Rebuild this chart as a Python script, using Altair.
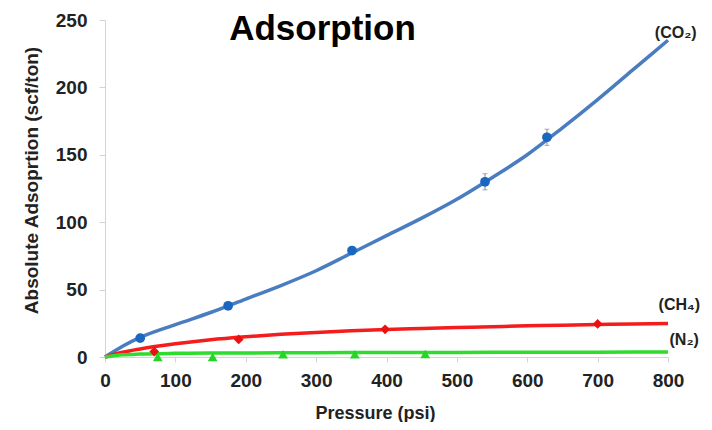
import altair as alt
import pandas as pd

# ---- data ----
curve_psi = [0, 25, 50, 100, 150, 200, 250, 300, 350, 400, 450, 500, 550, 600, 650, 700, 750, 800]
co2_curve = [0, 8, 14.5, 24, 33, 43, 53, 64, 77, 90, 103, 117, 133, 150, 170, 191, 213, 235]
ch4_curve = [0, 3.5, 6, 9.8, 12.8, 15, 16.8, 18.2, 19.4, 20.4, 21.2, 21.9, 22.5, 23.1, 23.6, 24.1, 24.5, 24.9]
n2_curve = [0, 1.6, 2.2, 2.7, 2.9, 3.0, 3.1, 3.2, 3.3, 3.3, 3.4, 3.4, 3.5, 3.5, 3.6, 3.6, 3.7, 3.7]

co2_psi = [50, 175, 351, 540, 628]
co2_val = [14, 38, 79, 130, 163]
co2_err = [0, 0, 0, 6, 6]

ch4_psi = [70, 190, 398, 700]
ch4_val = [4, 13, 20.5, 24.5]

n2_psi = [75, 153, 253, 355, 455]
n2_val = [0, 0, 2, 2, 2.2]

gases = ["CO2", "CH4", "N2"]
line_colors = ["#4a7dc0", "#f41c1c", "#2edc2e"]
point_colors = ["#1a67c2", "#ec1010", "#25d425"]
point_shapes = ["circle", "diamond", "triangle-up"]

label_text = ["(CO\u2082)", "(CH\u2084)", "(N\u2082)"]
label_psi = [811, 816, 823]
label_val = [240, 38.6, 12.6]

title_text = ["Adsorption"]
title_psi = [309]
title_val = [235.2]

x_ticks = [0, 100, 200, 300, 400, 500, 600, 700, 800]
y_ticks = [0, 50, 100, 150, 200, 250]

# ---- tables ----
curves = pd.DataFrame({
    "psi": curve_psi * 3,
    "val": co2_curve + ch4_curve + n2_curve,
    "gas": ["CO2"] * len(curve_psi) + ["CH4"] * len(curve_psi) + ["N2"] * len(curve_psi),
})
points = pd.DataFrame({
    "psi": co2_psi + ch4_psi + n2_psi,
    "val": co2_val + ch4_val + n2_val,
    "gas": ["CO2"] * len(co2_psi) + ["CH4"] * len(ch4_psi) + ["N2"] * len(n2_psi),
})
errs = pd.DataFrame({
    "psi": co2_psi,
    "lo": [v - e for v, e in zip(co2_val, co2_err)],
    "hi": [v + e for v, e in zip(co2_val, co2_err)],
})
errs = errs[[e > 0 for e in co2_err]]
labels = pd.DataFrame({"psi": label_psi, "val": label_val, "text": label_text})
titles = pd.DataFrame({"psi": title_psi, "val": title_val, "text": title_text})

FONT = "Liberation Sans"

xs = alt.Scale(domain=[0, 800], nice=False)
ys = alt.Scale(domain=[0, 250], nice=False)

x_axis = alt.Axis(values=x_ticks, grid=False, title="Pressure (psi)", labelFlush=False,
                  labelFontSize=19, labelFontWeight="bold", labelColor="#222222",
                  labelPadding=9, tickSize=5, tickColor="#d4d4d4", domainColor="#d4d4d4",
                  titleFontSize=18, titleFontWeight="bold", titleColor="#222222",
                  titlePadding=14, titleX=270, labelFont=FONT, titleFont=FONT)
y_axis = alt.Axis(values=y_ticks, grid=False, title="Absolute Adsoprtion (scf/ton)", labelFlush=False,
                  labelFontSize=19, labelFontWeight="bold", labelColor="#222222",
                  labelPadding=12, tickSize=6, tickColor="#d4d4d4", domainColor="#d4d4d4",
                  titleFontSize=19, titleFontWeight="bold", titleColor="#222222",
                  titleX=-74, titleY=160, titleBaseline="middle", labelFont=FONT, titleFont=FONT)

lines = alt.Chart(curves).mark_line(strokeWidth=3.5, interpolate="monotone").encode(
    x=alt.X("psi:Q", scale=xs, axis=x_axis),
    y=alt.Y("val:Q", scale=ys, axis=y_axis),
    color=alt.Color("gas:N", scale=alt.Scale(domain=gases, range=line_colors), legend=None),
    detail="gas:N",
)

err_rules = alt.Chart(errs).mark_rule(color="#8a8a8a", strokeWidth=1).encode(
    x="psi:Q", y="lo:Q", y2="hi:Q")
err_lo = alt.Chart(errs).mark_tick(color="#8a8a8a", orient="horizontal", size=5, thickness=1).encode(
    x="psi:Q", y="lo:Q")
err_hi = alt.Chart(errs).mark_tick(color="#8a8a8a", orient="horizontal", size=5, thickness=1).encode(
    x="psi:Q", y="hi:Q")

pts = alt.Chart(points).mark_point(filled=True, opacity=1, size=95).encode(
    x="psi:Q", y="val:Q",
    color=alt.Color("gas:N", scale=alt.Scale(domain=gases, range=point_colors), legend=None),
    shape=alt.Shape("gas:N", scale=alt.Scale(domain=gases, range=point_shapes), legend=None),
)

lab = alt.Chart(labels).mark_text(font=FONT, fontSize=16, fontWeight="bold", color="#222222",
                                  align="center", baseline="middle").encode(
    x="psi:Q", y="val:Q", text="text:N")

ttl = alt.Chart(titles).mark_text(font=FONT, fontSize=35, fontWeight="bold", color="#000000",
                                  align="center", baseline="alphabetic").encode(
    x="psi:Q", y="val:Q", text="text:N")

chart = alt.layer(lines, err_rules, err_lo, err_hi, pts, lab, ttl).resolve_scale(
    color="independent"
).properties(
    width=563, height=337,
    autosize=alt.AutoSizeParams(type="none"),
    padding={"left": 97, "top": 12, "right": 36, "bottom": 65},
    background="white",
).configure_view(stroke=None)

chart.save("out.html", embed_options={"renderer": "svg", "actions": False})
